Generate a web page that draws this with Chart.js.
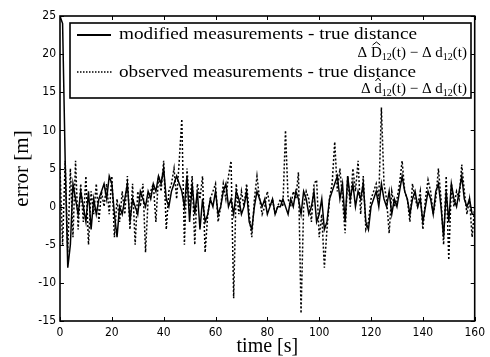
<!DOCTYPE html>
<html>
<head>
<meta charset="utf-8">
<script src="https://cdn.jsdelivr.net/npm/chart.js@4.4.1/dist/chart.umd.min.js"></script>
<style>
  html, body { margin: 0; padding: 0; background: #fff; }
  #wrap { width: 490px; height: 357px; }
</style>
</head>
<body>
<div id="wrap"><canvas id="chart"></canvas></div>
<script>
// sample times [s], one per second
const times = Array.from({ length: 161 }, (_, i) => i);

// modified measurements - true distance [m]
const modified = [
  25, 24, 6, -8, -5, 3, 1, -1, 2, 0,
  -2, 2, -3, 1, -1, 1, 2, 3, 1, 4,
  3, -1, -4, 0, -1, 1, 3, -2, 1, 0,
  -1, 2, 1, 0, 2, 1, 3, 2, 4, 3,
  5, 1, 0, 2, 3, 4, 3, 2, 0, 4,
  -2, 3, -1, 2, -3, 1, -2, -1, 1, 0,
  2, -1, 0, 2, 3, 0, 1, -1, 2, 1,
  -1, 0, 2, -2, -3, 0, 2, 1, 0, 1,
  -1, 0, 1, -1, 0, 0, 1, 0, -1, 1,
  0, 2, 1, -1, 2, 1, -1, 0, 2, -2,
  -1, 1, -3, -2, 1, 2, 3, 4, 1, 3,
  -2, 4, 1, 3, 0, 2, 1, 3, -2, -3,
  0, 1, 2, 0, 3, 1, 0, 2, -1, 1,
  0, 2, 4, 2, 1, -1, 1, 2, 0, 1,
  -2, 0, 2, 1, -1, 2, 3, 0, -4, 2,
  -2, 3, 1, 0, 2, 4, 1, 0, 1, -1,
  -1
];

// observed measurements - true distance [m]
const observed = [
  5, -5, 6, -6, 5, -4, 6, -3, 3, -2,
  4, -5, 2, -1, 3, -2, 2, 0, 3, -1,
  4, -4, 1, -2, 2, -1, 4, -3, 3, -5,
  2, 0, 3, -6, 1, 2, 3, -2, 4, 2,
  6, -3, 2, 3, 5, 1, 6, 11.5, -5, 5,
  0, 4, -5, 3, 1, 4, -6, -1, 1, 2,
  3, -2, 0, 3, 1, 4, 6, -12, 3, -1,
  2, 0, 3, -1, -4, 1, 4, 1, -1, 0,
  2, 0, 1, -1, 0, 1, 0, 10, 1, 0,
  2, 1, 4.5, -14, 0, 2, 1, -2, 3, 3.5,
  -4, -1, -8, -3, 1, 3, 8.5, 2, 5, 1,
  -3.5, 4, 0, 5, 2, 6, -1, 4, -3, -2,
  1, 2, 3, 1, 13, 3, 1, -3.5, 2, 0,
  1, 3, 6, 2, 1, -2, 3, 1, 0, 2,
  -3, 1, 3.5, 2, -1, 1, 5, 1, -5, 4,
  -7, 3, 0, 2, 1, 5.5, 2, -1, 1, -4,
  0
];

const xTicks = [0, 20, 40, 60, 80, 100, 120, 140, 160];
const yTicks = [-15, -10, -5, 0, 5, 10, 15, 20, 25];

const serif = '"Liberation Serif", "Times New Roman", serif';
const tickFont = '"Liberation Sans Narrow", "DejaVu Sans Condensed", "Liberation Sans", sans-serif';

// draw text stretched horizontally to a given width (the scan uses a wide serif face)
function fitText(ctx, text, x, y, width) {
  const w = ctx.measureText(text).width;
  ctx.save();
  ctx.translate(x, y);
  ctx.scale(width / w, 1);
  ctx.fillText(text, 0, 0);
  ctx.restore();
}

function drawFormula(ctx, parts, rightX, baseline) {
  const big = '15px ' + serif, small = '10px ' + serif;
  let w = 0;
  parts.forEach(p => { ctx.font = p.sub ? small : big; w += ctx.measureText(p.t).width; });
  let x = rightX - w;
  parts.forEach(p => {
    ctx.font = p.sub ? small : big;
    const y = p.sub ? baseline + 3 : baseline;
    ctx.fillText(p.t, x, y);
    const pw = ctx.measureText(p.t).width;
    if (p.hat) {
      ctx.beginPath();
      ctx.lineWidth = 1;
      ctx.moveTo(x + pw * 0.15, baseline - 12);
      ctx.lineTo(x + pw * 0.5, baseline - 15);
      ctx.lineTo(x + pw * 0.85, baseline - 12);
      ctx.stroke();
    }
    x += pw;
  });
}

const frameAndLegend = {
  id: 'frameAndLegend',
  afterDraw(chart) {
    const { ctx, chartArea: a, scales: { x, y } } = chart;
    ctx.save();
    ctx.strokeStyle = '#000';
    ctx.fillStyle = '#000';

    // axes box with inward ticks
    ctx.lineWidth = 1.6;
    ctx.strokeRect(a.left, a.top, a.right - a.left, a.bottom - a.top);
    ctx.lineWidth = 1;
    ctx.beginPath();
    xTicks.forEach(v => {
      const px = Math.round(x.getPixelForValue(v)) + 0.5;
      ctx.moveTo(px, a.bottom); ctx.lineTo(px, a.bottom - 4);
      ctx.moveTo(px, a.top); ctx.lineTo(px, a.top + 4);
    });
    yTicks.forEach(v => {
      const py = Math.round(y.getPixelForValue(v)) + 0.5;
      ctx.moveTo(a.left, py); ctx.lineTo(a.left + 4, py);
      ctx.moveTo(a.right, py); ctx.lineTo(a.right - 4, py);
    });
    ctx.stroke();

    // legend
    const bx = 70, by = 23, bw = 401, bh = 75;
    ctx.fillStyle = '#fff';
    ctx.fillRect(bx, by, bw, bh);
    ctx.fillStyle = '#000';
    ctx.lineWidth = 1.6;
    ctx.strokeRect(bx, by, bw, bh);

    ctx.lineWidth = 1.8;
    ctx.beginPath();
    ctx.moveTo(77, 35); ctx.lineTo(111, 35);
    ctx.stroke();
    ctx.lineWidth = 1.4;
    ctx.setLineDash([1.5, 1.5]);
    ctx.beginPath();
    ctx.moveTo(77, 72); ctx.lineTo(113, 72);
    ctx.stroke();
    ctx.setLineDash([]);

    ctx.font = '17px ' + serif;
    ctx.textBaseline = 'alphabetic';
    ctx.textAlign = 'left';
    fitText(ctx, 'modified measurements - true distance', 119, 39, 298);
    fitText(ctx, 'observed measurements - true distance', 119, 77, 297);

    drawFormula(ctx, [
      { t: 'Δ ' }, { t: 'D', hat: true }, { t: '12', sub: true },
      { t: '(t) − Δ d' }, { t: '12', sub: true }, { t: '(t)' }
    ], 467, 57);
    drawFormula(ctx, [
      { t: 'Δ ' }, { t: 'd', hat: true }, { t: '12', sub: true },
      { t: '(t) − Δ d' }, { t: '12', sub: true }, { t: '(t)' }
    ], 467, 93);

    ctx.restore();
  }
};

new Chart(document.getElementById('chart'), {
  type: 'line',
  data: {
    datasets: [
      {
        label: 'modified measurements - true distance',
        data: times.map((t, i) => ({ x: t, y: modified[i] })),
        borderColor: '#000',
        borderWidth: 1.5,
        pointRadius: 0,
        tension: 0
      },
      {
        label: 'observed measurements - true distance',
        data: times.map((t, i) => ({ x: t, y: observed[i] })),
        borderColor: '#000',
        borderWidth: 1.5,
        borderDash: [2, 2],
        pointRadius: 0,
        tension: 0
      }
    ]
  },
  options: {
    responsive: true,
    maintainAspectRatio: false,
    animation: false,
    layout: { padding: { top: 16, right: 12, left: 0, bottom: 0 } },
    plugins: { legend: { display: false }, tooltip: { enabled: false } },
    scales: {
      x: {
        type: 'linear',
        min: 0, max: 160,
        afterFit: s => { s.height = 36; },
        afterBuildTicks: s => { s.ticks = xTicks.map(v => ({ value: v })); },
        grid: { display: false, drawTicks: false },
        border: { display: false },
        ticks: { padding: 5, color: '#000', font: { family: tickFont, size: 12 } },
        title: {
          display: true, text: 'time [s]', color: '#000',
          font: { family: serif, size: 20, lineHeight: 1 },
          padding: { top: 0, bottom: 0 }
        }
      },
      y: {
        min: -15, max: 25,
        afterFit: s => { s.width = 60; },
        afterBuildTicks: s => { s.ticks = yTicks.map(v => ({ value: v })); },
        grid: { display: false, drawTicks: false },
        border: { display: false },
        ticks: { padding: 4, color: '#000', font: { family: tickFont, size: 12 } },
        title: {
          display: true, text: 'error [m]', color: '#000',
          font: { family: serif, size: 21, lineHeight: 1 },
          padding: { top: 12, bottom: 0 }
        }
      }
    }
  },
  plugins: [frameAndLegend]
});
</script>
</body>
</html>
